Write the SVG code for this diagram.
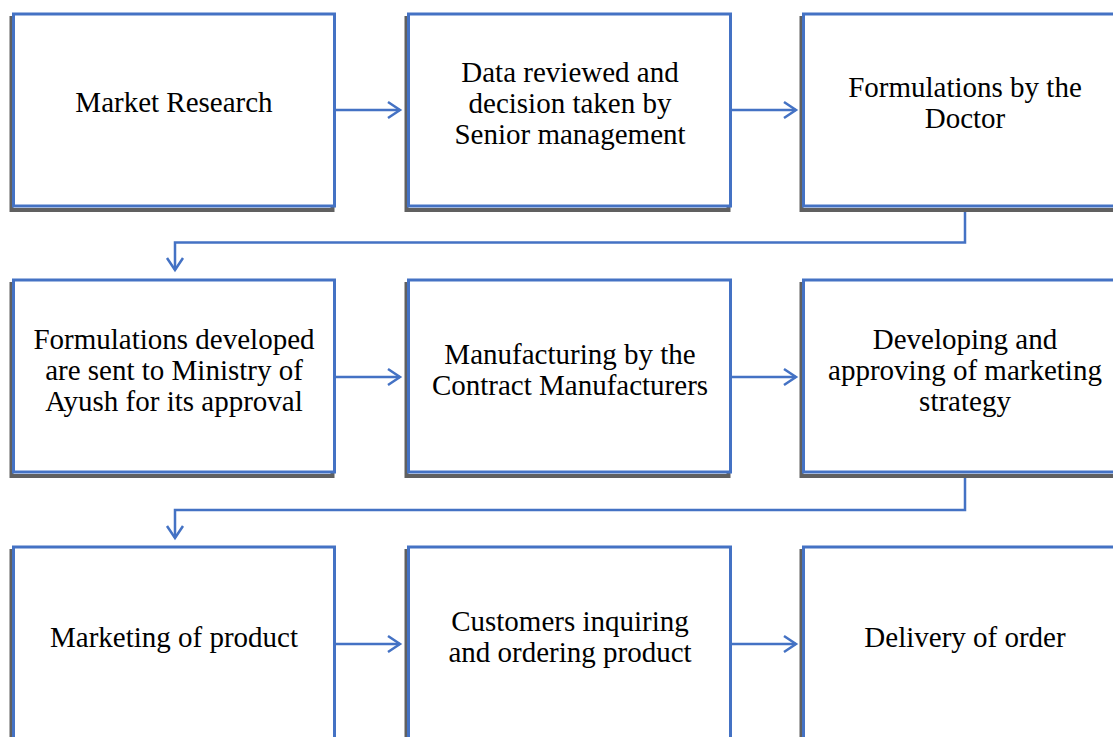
<svg xmlns="http://www.w3.org/2000/svg" width="1113" height="737" viewBox="0 0 1113 737">
<style>
.sh{fill:none;stroke:#606060;stroke-width:4}
.bx{fill:#fff;stroke:#4472C4;stroke-width:3}
.t{font-family:"Liberation Serif","Times New Roman",serif;font-size:29px;fill:#000;text-anchor:middle}
.c{fill:none;stroke:#4472C4;stroke-width:2.5}
</style>
<defs>
<marker id="ah" markerWidth="16" markerHeight="20" refX="13" refY="10" orient="auto" markerUnits="userSpaceOnUse">
<path d="M1,2 L13,10 L1,18" fill="none" stroke="#4472C4" stroke-width="2.5"/>
</marker>
</defs>
<rect width="1113" height="737" fill="#fff"/>
<g id="connectors">
<line class="c" x1="336" y1="110" x2="400" y2="110" marker-end="url(#ah)"/>
<line class="c" x1="732" y1="110" x2="796" y2="110" marker-end="url(#ah)"/>
<line class="c" x1="336" y1="377" x2="400" y2="377" marker-end="url(#ah)"/>
<line class="c" x1="732" y1="377" x2="796" y2="377" marker-end="url(#ah)"/>
<line class="c" x1="336" y1="644" x2="400" y2="644" marker-end="url(#ah)"/>
<line class="c" x1="732" y1="644" x2="796" y2="644" marker-end="url(#ah)"/>
<path class="c" d="M965 208 V242.5 H175 V270" marker-end="url(#ah)"/>
<path class="c" d="M965 475 V510 H175 V538" marker-end="url(#ah)"/>
</g>
<g id="n1"><rect class="sh" x="11.5" y="18" width="321" height="192"/><rect class="bx" x="13.5" y="14" width="321" height="192"/>
<text class="t" x="174" y="112">Market Research</text></g>
<g id="n2"><rect class="sh" x="406.5" y="18" width="322" height="192"/><rect class="bx" x="408.5" y="14" width="322" height="192"/>
<text class="t" x="570" y="82">Data reviewed and</text><text class="t" x="570" y="113">decision taken by</text><text class="t" x="570" y="144">Senior management</text></g>
<g id="n3"><rect class="sh" x="801.5" y="18" width="322" height="192"/><rect class="bx" x="803.5" y="14" width="322" height="192"/>
<text class="t" x="965" y="97">Formulations by the</text><text class="t" x="965" y="128">Doctor</text></g>
<g id="n4"><rect class="sh" x="11.5" y="284" width="321" height="192"/><rect class="bx" x="13.5" y="280" width="321" height="192"/>
<text class="t" x="174" y="349">Formulations developed</text><text class="t" x="174" y="380">are sent to Ministry of</text><text class="t" x="174" y="411">Ayush for its approval</text></g>
<g id="n5"><rect class="sh" x="406.5" y="284" width="322" height="192"/><rect class="bx" x="408.5" y="280" width="322" height="192"/>
<text class="t" x="570" y="364">Manufacturing by the</text><text class="t" x="570" y="395">Contract Manufacturers</text></g>
<g id="n6"><rect class="sh" x="801.5" y="284" width="322" height="192"/><rect class="bx" x="803.5" y="280" width="322" height="192"/>
<text class="t" x="965" y="349">Developing and</text><text class="t" x="965" y="380">approving of marketing</text><text class="t" x="965" y="411">strategy</text></g>
<g id="n7"><rect class="sh" x="11.5" y="551" width="321" height="192"/><rect class="bx" x="13.5" y="547" width="321" height="192"/>
<text class="t" x="174" y="647">Marketing of product</text></g>
<g id="n8"><rect class="sh" x="406.5" y="551" width="322" height="192"/><rect class="bx" x="408.5" y="547" width="322" height="192"/>
<text class="t" x="570" y="631">Customers inquiring</text><text class="t" x="570" y="662">and ordering product</text></g>
<g id="n9"><rect class="sh" x="801.5" y="551" width="322" height="192"/><rect class="bx" x="803.5" y="547" width="322" height="192"/>
<text class="t" x="965" y="647">Delivery of order</text></g>
</svg>
